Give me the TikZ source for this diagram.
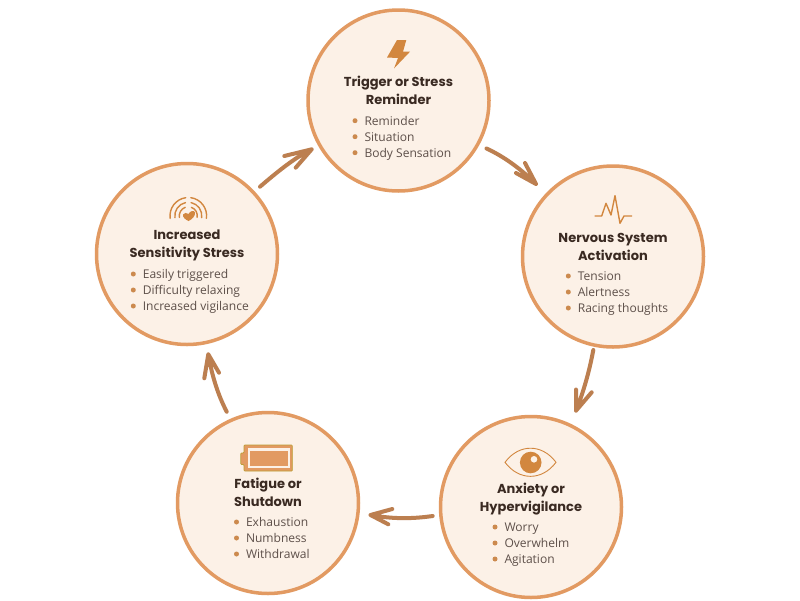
\documentclass[tikz,border=0pt]{standalone}
\usepackage{fontspec}
\setmainfont{Open Sans}
\newfontfamily\titlefont{Poppins}[BoldFont={Poppins Bold}]
\definecolor{ringc}{HTML}{E29A62}
\definecolor{fillc}{HTML}{FCF1E7}
\definecolor{arrowc}{HTML}{BC7F50}
\definecolor{iconc}{HTML}{D2873F}
\definecolor{dotc}{HTML}{CC8A4E}
\definecolor{titlec}{HTML}{3A2A22}
\definecolor{bodyc}{HTML}{5E504A}
\tikzset{
  x=1pt,y=-1pt,
  bubble/.style={circle,draw=ringc,fill=fillc,line width=3.5pt,minimum size=181pt,inner sep=0pt},
  headtext/.style={font=\titlefont\bfseries\fontsize{13}{18}\selectfont,text=titlec,align=center,anchor=center},
  itemtext/.style={font=\fontsize{12.05}{13}\selectfont,text=bodyc,anchor=base west,inner sep=0pt},
  itemdot/.style={circle,fill=dotc,minimum size=5pt,inner sep=0pt},
  flow/.style={draw=arrowc,line width=4pt,line cap=round,line join=round},
  iconline/.style={draw=iconc,line width=1.4pt,line cap=round,line join=round}
}
\newcommand{\items}[5]{% x, y first line, labels
  \node[itemdot] at (#1,#2) {};
  \node[itemdot] at (#1,#2+16) {};
  \node[itemdot] at (#1,#2+32) {};
  \node[itemtext] at (#1+9.3,#2+4.3) {#3};
  \node[itemtext] at (#1+9.3,#2+20.3) {#4};
  \node[itemtext] at (#1+9.3,#2+36.3) {#5};
}
\begin{document}
\begin{tikzpicture}
\useasboundingbox (0,0) rectangle (800,600);
\fill[white] (0,0) rectangle (800,600);
\node[bubble] (top) at (398.5,100.5) {};
\node[bubble] (right) at (613,256.5) {};
\node[bubble] (br) at (531,507) {};
\node[bubble] (bl) at (268,503) {};
\node[bubble] (left) at (187,254) {};
% connectors
\coordinate (a1s) at (486.5,148.5); \coordinate (a1t) at (536,184);
\coordinate (a2s) at (593.3,350); \coordinate (a2t) at (576,410.7);
\coordinate (a3s) at (432.7,516); \coordinate (a3t) at (370.5,515);
\coordinate (a4s) at (226.7,411.7); \coordinate (a4t) at (208.3,354.3);
\coordinate (a5s) at (260,186.7); \coordinate (a5t) at (311.7,149.3);
\draw[flow] (a1s) .. controls (505,157) and (522,170) .. (a1t) -- (525,163) (a1t) -- (516,173);
\draw[flow] (a2s) .. controls (589,373) and (583,393) .. (a2t) -- (576,389.5) (a2t) -- (591.7,392.3);
\draw[flow] (a3s) .. controls (412,519) and (392,519) .. (a3t) -- (392.3,509) (a3t) -- (388.3,524.3);
\draw[flow] (a4s) .. controls (218,395) and (212,376) .. (a4t) -- (204.3,378.3) (a4t) -- (219,372.7);
\draw[flow] (a5s) .. controls (276,173) and (294,158) .. (a5t) -- (284.3,156) (a5t) -- (295.7,167.7);
% titles
\node[headtext] at (398.5,90.5) {\textbf{Trigger or Stress}\\\textbf{Reminder}};
\node[headtext] at (613,246.7) {\textbf{Nervous System}\\\textbf{Activation}};
\node[headtext] at (531,499) {\textbf{Anxiety or}\\\textbf{Hypervigilance}};
\node[headtext] at (268,492.5) {\textbf{Fatigue or}\\\textbf{Shutdown}};
\node[headtext] at (187,245.5) {\textbf{Increased}\\\textbf{Sensitivity Stress}};
\items{355}{120.7}{Reminder}{Situation}{Body Sensation}
\items{568.3}{276}{Tension}{Alertness}{Racing thoughts}
\items{495}{527}{Worry}{Overwhelm}{Agitation}
\items{236.5}{522}{Exhaustion}{Numbness}{Withdrawal}
\items{133.3}{274}{Easily triggered}{Difficulty relaxing}{Increased vigilance}
% bolt icon
\fill[iconc] (397,40) -- (406.3,40) -- (403,51.7) -- (410,51.7) -- (394,68.5) -- (398,58) -- (387,57.5) -- cycle;
% pulse icon
\draw[iconline] (595,216) -- (601.7,216) -- (606,203.3) -- (611,215) -- (615,195.7) -- (620,223.3) -- (624,216) -- (631.7,216);
% eye icon
\draw[iconc,line width=.9pt,fill=fillc] (505,462.3) .. controls (519,443.5) and (542,443.5) .. (556,462.3) .. controls (542,481) and (519,481) .. (505,462.3) -- cycle;
\fill[iconc] (530.7,462.5) circle (10.8);
\fill[fillc] (534,459.3) circle (3.3);
% battery icon
\draw[draw=olive!45!ringc,line width=.7pt,fill=ringc,rounded corners=.8pt] (244,445) -- (292.3,445) -- (292.3,471) -- (244,471) -- (244,464.5) -- (240.8,464.5) -- (240.8,453) -- (244,453) -- cycle;
\fill[fillc] (247.7,448.3) rectangle (290,468.3);
\fill[ringc] (250.3,451) rectangle (287.7,466);
% wifi-heart icon
\fill[iconc] (188.5,221) .. controls (185,219.5) and (182.5,217) .. (183,214.5) .. controls (184,212.5) and (187,212.5) .. (188.5,214) .. controls (190,211) and (194,209.5) .. (195,212.5) .. controls (195.5,216) and (192,219.5) .. (188.5,221) -- cycle;
\coordinate (wc) at (188.3,215.8);
\draw[iconline] (wc) ++(172:18.3) arc[start angle=172,end angle=262,radius=18.3];
\draw[iconline] (wc) ++(172:13.5) arc[start angle=172,end angle=258,radius=13.5];
\draw[iconline] (wc) ++(170:9) arc[start angle=170,end angle=250,radius=9];
\draw[iconline] (wc) ++(8:18.3) arc[start angle=8,end angle=-82,radius=18.3];
\draw[iconline] (wc) ++(8:13.5) arc[start angle=8,end angle=-78,radius=13.5];
\draw[iconline] (wc) ++(10:9) arc[start angle=10,end angle=-70,radius=9];
\end{tikzpicture}
\end{document}
